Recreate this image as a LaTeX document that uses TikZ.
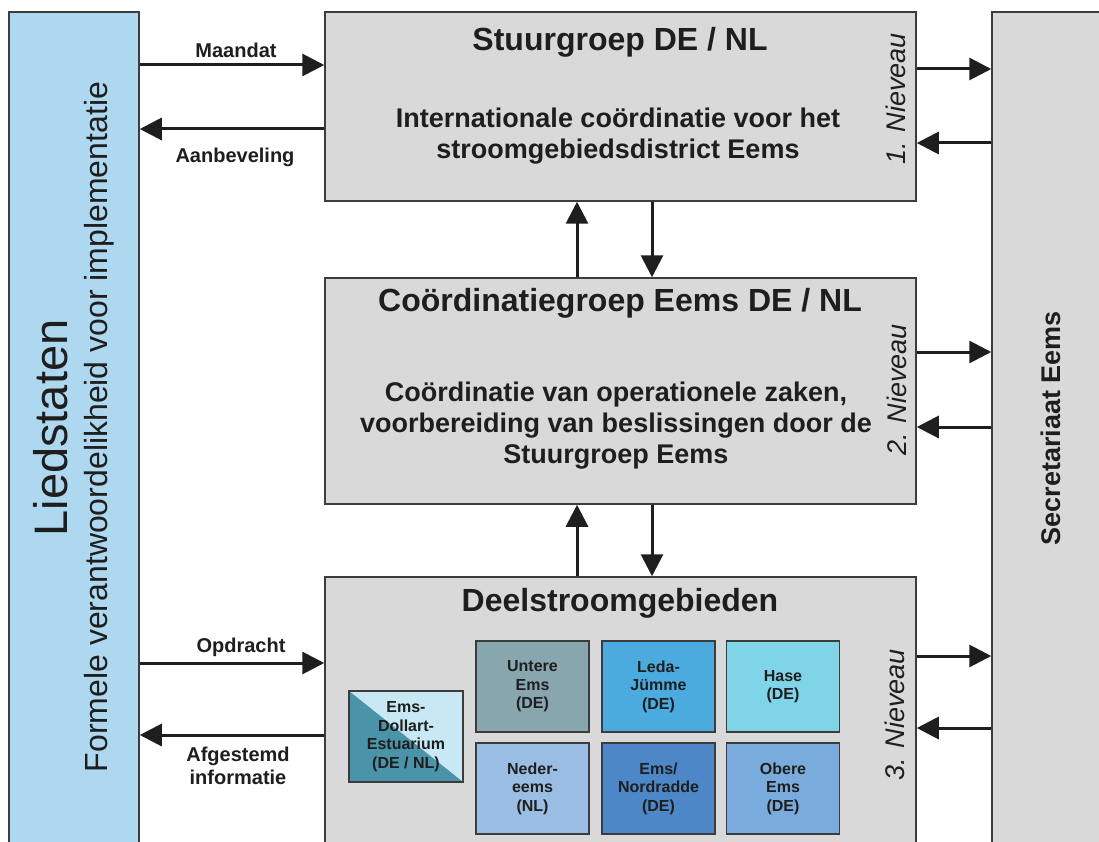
\documentclass[tikz,border=0pt]{standalone}
\usepackage{fontspec}
\setmainfont{Liberation Sans}
\usetikzlibrary{arrows.meta}
\definecolor{liedblue}{HTML}{AED8F0}
\definecolor{boxgray}{HTML}{D9D9D9}
\definecolor{boxline}{HTML}{3C3C3C}
\definecolor{txt}{HTML}{1E1E1E}
\definecolor{cUntere}{HTML}{87A6AE}
\definecolor{cLeda}{HTML}{4BABDF}
\definecolor{cHase}{HTML}{80D4E8}
\definecolor{cNeder}{HTML}{9ABDE3}
\definecolor{cNord}{HTML}{4D87C7}
\definecolor{cObere}{HTML}{79ACDC}
\definecolor{cEmsDark}{HTML}{4A93A8}
\definecolor{cEmsLight}{HTML}{C8E8F4}
\newcommand\ftitle{\fontsize{32}{38}\selectfont\bfseries}
\newcommand\fbody{\fontsize{27}{31}\selectfont\bfseries}
\newcommand\flabel{\fontsize{20}{24}\selectfont\bfseries}
\newcommand\fsub{\fontsize{16}{18.5}\selectfont\bfseries}
\newcommand\flevel{\fontsize{27}{32}\selectfont\itshape}
\begin{document}
\begin{tikzpicture}[x=1pt,y=-1pt,
  box/.style={draw=boxline, line width=1.5pt, fill=boxgray, rectangle, inner sep=0pt},
  liedbox/.style={draw=boxline, line width=1.5pt, fill=liedblue, rectangle, inner sep=0pt},
  subbox/.style={draw=boxline, line width=1.5pt, rectangle, inner sep=0pt,
     minimum width=113pt, minimum height=91pt, align=center, font=\fsub, text=txt},
  arr/.style={draw=txt, line width=3pt, -{Triangle[length=22pt,width=22pt]}},
  title/.style={font=\ftitle, text=txt, inner sep=0pt},
  body/.style={font=\fbody, text=txt, align=center, inner sep=0pt},
  lbl/.style={font=\flabel, text=txt, align=center, inner sep=0pt},
  level/.style={font=\flevel, text=txt, rotate=90, inner sep=0pt},
]
\useasboundingbox (0,0) rectangle (1099,842);
\clip (0,0) rectangle (1099,842);
\fill[white] (0,0) rectangle (1099,842);

% main boxes
\node[liedbox, minimum width=130pt, minimum height=858pt] (lied) at (74,441) {};
\node[box, minimum width=118pt, minimum height=858pt] (secr) at (1051,441) {};
\node[box, minimum width=591pt, minimum height=189pt] (stuur) at (620.5,106.5) {};
\node[box, minimum width=591pt, minimum height=226pt] (coord) at (620.5,391) {};
\node[box, minimum width=591pt, minimum height=293pt] (deel) at (620.5,723.5) {};

% texts in side boxes
\node[rotate=90, font=\fontsize{47}{52}\selectfont, text=txt, inner sep=0pt] (liedT) at (51,428) {Liedstaten};
\node[rotate=90, font=\fontsize{32}{36}\selectfont, text=txt, inner sep=0pt] (liedS) at (99.5,427) {Formele verantwoordelikheid voor implementatie};
\node[rotate=90, font=\fontsize{27}{32}\selectfont\bfseries, text=txt, inner sep=0pt] (secrT) at (1051,428) {Secretariaat Eems};

% level 1
\node[title] (stuurT) at (620,42) {Stuurgroep DE / NL};
\node[body] (stuurB) at (618,136) {Internationale coördinatie voor het\\stroomgebiedsdistrict Eems};
\node[level] (lev1) at (896,99) {1. Nieveau};

% level 2
\node[title] (coordT) at (620,303) {Coördinatiegroep Eems DE / NL};
\node[body] (coordB) at (616,426) {Coördinatie van operationele zaken,\\voorbereiding van beslissingen door de\\Stuurgroep Eems};
\node[level] (lev2) at (897,390) {2. Nieveau};

% level 3
\node[title] (deelT) at (620,603) {Deelstroomgebieden};
\node[level] (lev3) at (895,715) {3. Nieveau};

% sub-areas
\node[subbox, fill=cUntere] (untere) at (532.5,686.5) {Untere\\Ems\\(DE)};
\node[subbox, fill=cLeda] (leda) at (658.5,686.5) {Leda-\\Jümme\\(DE)};
\node[subbox, fill=cHase] (hase) at (783,686.5) {Hase\\(DE)};
\node[subbox, fill=cNeder] (neder) at (532.5,788.5) {Neder-\\eems\\(NL)};
\node[subbox, fill=cNord] (nord) at (658.5,788.5) {Ems/\\Nordradde\\(DE)};
\node[subbox, fill=cObere] (obere) at (783,788.5) {Obere\\Ems\\(DE)};
\node[subbox, minimum width=114pt, fill=cEmsLight,
  path picture={\fill[cEmsDark] (path picture bounding box.north west) -- (path picture bounding box.south east) -- (path picture bounding box.south west) -- cycle;}]
  (dollart) at (406,736.5) {Ems-\\Dollart-\\Estuarium\\(DE / NL)};

% row coordinates
\coordinate (r1) at (0,65);
\coordinate (r2) at (0,129);
\coordinate (r3) at (0,663);
\coordinate (r4) at (0,735);
\coordinate (s1) at (0,69);
\coordinate (s2) at (0,143);
\coordinate (s3) at (0,352);
\coordinate (s4) at (0,427);
\coordinate (s5) at (0,656);
\coordinate (s6) at (0,728);
\coordinate (vu) at (577,0);
\coordinate (vd) at (652,0);

% left arrows
\draw[arr] (lied.east |- r1) -- (stuur.west |- r1);
\draw[arr] (stuur.west |- r2) -- (lied.east |- r2);
\draw[arr] (lied.east |- r3) -- (deel.west |- r3);
\draw[arr] (deel.west |- r4) -- (lied.east |- r4);
\node[lbl] (lMaandat) at (236,50) {Maandat};
\node[lbl] (lAanb) at (235,157) {Aanbeveling};
\node[lbl] (lOpdr) at (241,647) {Opdracht};
\node[lbl, font=\fontsize{20}{23}\selectfont\bfseries] (lAfg) at (238,766) {Afgestemd\\informatie};

% right arrows
\draw[arr] (stuur.east |- s1) -- (secr.west |- s1);
\draw[arr] (secr.west |- s2) -- (stuur.east |- s2);
\draw[arr] (coord.east |- s3) -- (secr.west |- s3);
\draw[arr] (secr.west |- s4) -- (coord.east |- s4);
\draw[arr] (deel.east |- s5) -- (secr.west |- s5);
\draw[arr] (secr.west |- s6) -- (deel.east |- s6);

% vertical arrows
\draw[arr] (coord.north -| vu) -- (stuur.south -| vu);
\draw[arr] (stuur.south -| vd) -- (coord.north -| vd);
\draw[arr] (deel.north -| vu) -- (coord.south -| vu);
\draw[arr] (coord.south -| vd) -- (deel.north -| vd);
\end{tikzpicture}
\end{document}
